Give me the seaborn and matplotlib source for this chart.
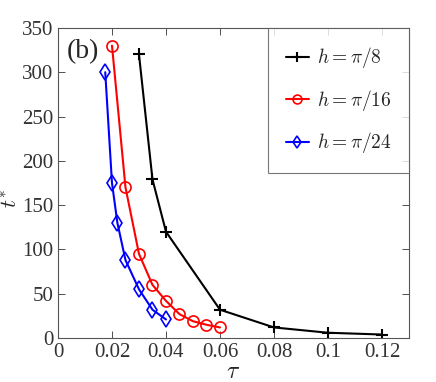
import matplotlib
matplotlib.use('Agg')
import matplotlib.pyplot as plt
import seaborn as sns
import pandas as pd

# data
tau_8 = [0.03, 0.035, 0.04, 0.06, 0.08, 0.10, 0.12]
t_8 = [320, 179, 120, 32, 12, 6, 4]
tau_16 = [0.02, 0.025, 0.03, 0.035, 0.04, 0.045, 0.05, 0.055, 0.06]
t_16 = [330, 170, 95, 60, 42, 27, 19, 15, 12]
tau_24 = [0.0175, 0.02, 0.022, 0.025, 0.03, 0.035, 0.04]
t_24 = [300, 175, 130, 88, 55, 32, 21]

labels = [r'$h=\pi/8$', r'$h=\pi/16$', r'$h=\pi/24$']

sns.set_style('ticks')
plt.rcParams['font.family'] = ['Liberation Serif', 'DejaVu Serif']
plt.rcParams['mathtext.fontset'] = 'cm'
plt.rcParams['xtick.direction'] = 'in'
plt.rcParams['ytick.direction'] = 'in'

fig = plt.figure(figsize=(4.36, 3.82), dpi=100)
ax = fig.add_axes([0.133, 0.115, 0.805, 0.812])

df8 = pd.DataFrame({'tau': tau_8, 't': t_8})
df16 = pd.DataFrame({'tau': tau_16, 't': t_16})
df24 = pd.DataFrame({'tau': tau_24, 't': t_24})

sns.lineplot(data=df8, x='tau', y='t', ax=ax, color='black', marker='+',
             markersize=9, markeredgecolor='black', markeredgewidth=1.5,
             linewidth=1.5, label=labels[0])
sns.lineplot(data=df16, x='tau', y='t', ax=ax, color='red', marker='o',
             markersize=8, markerfacecolor='none', markeredgecolor='red',
             markeredgewidth=1.2, linewidth=1.5, label=labels[1])
sns.lineplot(data=df24, x='tau', y='t', ax=ax, color='blue', marker='d',
             markersize=8, markerfacecolor='none', markeredgecolor='blue',
             markeredgewidth=1.2, linewidth=1.5, label=labels[2])

ax.set_xlim(0, 0.13)
ax.set_ylim(0, 350)
ax.set_xticks([0, 0.02, 0.04, 0.06, 0.08, 0.1, 0.12])
ax.set_xticklabels(['0', '0.02', '0.04', '0.06', '0.08', '0.1', '0.12'])
ax.set_yticks(range(0, 351, 50))
ax.tick_params(labelsize=15, top=True, right=True, length=5, width=0.6, colors='#333333')
for s in ax.spines.values():
    s.set_linewidth(0.8)
    s.set_color('#555555')

ax.set_xlabel(r'$\tau$', fontsize=17, labelpad=0)
ax.set_ylabel(r'$t^{*}$', fontsize=16)
ax.yaxis.set_label_coords(-0.102, 0.45)
ax.text(0.0032, 337, '(b)', fontsize=20, va='top', ha='left')

leg = ax.legend(loc='upper right', fontsize=14, frameon=True, fancybox=False,
                borderaxespad=0, handlelength=1.2, labelspacing=0.9,
                borderpad=0.9, handletextpad=0.4, markerscale=0.8)
leg.get_frame().set_edgecolor('#555555')
leg.get_frame().set_linewidth(0.8)

fig.savefig('out.png', dpi=100)
